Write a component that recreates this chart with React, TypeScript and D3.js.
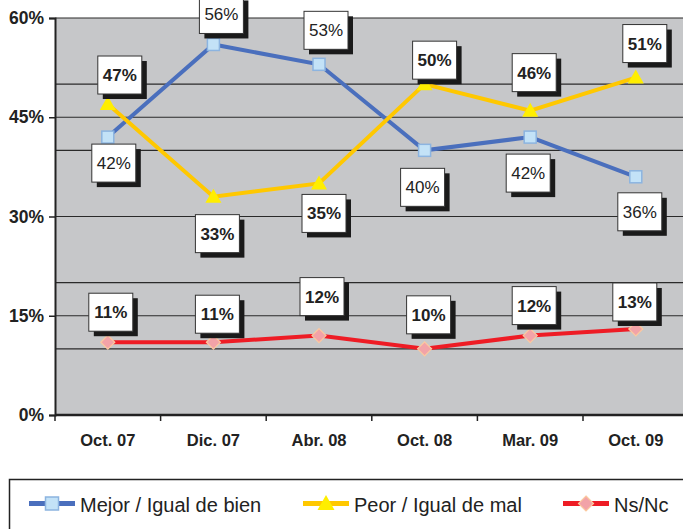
import React, { useEffect, useRef } from 'react';
import * as d3 from 'd3';

const categories = ['Oct. 07', 'Dic. 07', 'Abr. 08', 'Oct. 08', 'Mar. 09', 'Oct. 09'];
const mejor = [42, 56, 53, 40, 42, 36];
const peor = [47, 33, 35, 50, 46, 51];
const nsnc = [11, 11, 12, 10, 12, 13];
const yTicks = [0, 15, 30, 45, 60];
const gridValues = [10, 15, 20, 30, 40, 45, 50, 60];
const seriesNames = ['Mejor / Igual de bien', 'Peor / Igual de mal', 'Ns/Nc'];

// label box offsets from each point (dx, dy)
const mejorOffsets = [[6, 26], [8, -30], [7, -34], [-2, 37], [-2, 36], [4, 35]];
const peorOffsets = [[12, -29], [4, 37], [5, 30], [10, -24], [4, -38], [9, -34]];
const nsncOffsets = [[3, -30], [4, -28], [3, -39], [4, -34], [4, -30], [-1, -27]];

const App = () => {
  const svgRef = useRef(null);
  const width = 683;
  const height = 529;

  useEffect(() => {
    d3.select(svgRef.current).selectAll('*').remove();

    const margin = { top: 18, left: 55, bottom: 114 };
    const plotW = 633.6;
    const plotH = height - margin.top - margin.bottom;

    const svg = d3.select(svgRef.current).attr('width', width).attr('height', height);
    const font = 'Liberation Sans, Arial, sans-serif';

    const x = d3.scaleBand().domain(categories).range([margin.left, margin.left + plotW]);
    const y = d3.scaleLinear().domain([0, 60]).range([margin.top + plotH, margin.top]);
    const cx = (c) => x(c) + x.bandwidth() / 2;

    svg.append('rect')
      .attr('x', margin.left).attr('y', margin.top)
      .attr('width', plotW).attr('height', plotH)
      .attr('fill', '#c6c7c9');

    svg.append('g').selectAll('line').data(gridValues).join('line')
      .attr('x1', margin.left).attr('x2', margin.left + plotW)
      .attr('y1', d => y(d)).attr('y2', d => y(d))
      .attr('stroke', '#2a2a2a').attr('stroke-width', 1.2);

    // y axis
    const yAxis = svg.append('g')
      .attr('transform', `translate(${margin.left},0)`)
      .call(d3.axisLeft(y).tickValues(yTicks).tickSize(6).tickFormat(d => `${d}%`));
    yAxis.select('.domain').attr('stroke', '#222').attr('stroke-width', 2);
    yAxis.selectAll('.tick line').attr('stroke', '#222').attr('stroke-width', 1.5);
    yAxis.selectAll('text')
      .attr('font-family', font).attr('font-size', 17.5).attr('font-weight', 'bold')
      .attr('fill', '#222').attr('x', -11);

    // x axis
    const boundaries = categories.map((c) => x(c));
    const xg = svg.append('g');
    xg.append('line')
      .attr('x1', margin.left).attr('x2', margin.left + plotW)
      .attr('y1', y(0)).attr('y2', y(0))
      .attr('stroke', '#222').attr('stroke-width', 2.5);
    xg.selectAll('line.tk').data(boundaries).join('line')
      .attr('class', 'tk')
      .attr('x1', d => d).attr('x2', d => d)
      .attr('y1', y(0)).attr('y2', y(0) + 6)
      .attr('stroke', '#222').attr('stroke-width', 1.5);
    xg.selectAll('text').data(categories).join('text')
      .attr('x', d => cx(d)).attr('y', y(0) + 31)
      .attr('text-anchor', 'middle')
      .attr('font-family', font).attr('font-size', 16.5).attr('font-weight', 'bold')
      .attr('fill', '#222')
      .text(d => d);

    const series = [
      { values: mejor, color: '#4a6fbd', offsets: mejorOffsets, marker: 'square', bold: false },
      { values: peor, color: '#ffc800', offsets: peorOffsets, marker: 'triangle', bold: true },
      { values: nsnc, color: '#ee1c25', offsets: nsncOffsets, marker: 'diamond', bold: true },
    ];

    const line = d3.line().x((d, i) => cx(categories[i])).y(d => y(d));

    series.forEach((s) => {
      svg.append('path')
        .datum(s.values)
        .attr('fill', 'none')
        .attr('stroke', s.color)
        .attr('stroke-width', 4)
        .attr('d', line);
    });

    const drawMarker = (g, kind, px, py, r = 7) => {
      if (kind === 'square') {
        g.append('rect')
          .attr('x', px - r + 1).attr('y', py - r + 1).attr('width', 2 * r - 2).attr('height', 2 * r - 2)
          .attr('fill', '#c3e2f7').attr('stroke', '#8cb4e0').attr('stroke-width', 1.5);
      } else if (kind === 'triangle') {
        g.append('path')
          .attr('d', `M${px},${py - r - 1}L${px + r + 1},${py + r - 1}L${px - r - 1},${py + r - 1}Z`)
          .attr('fill', '#ffee00');
      } else {
        g.append('path')
          .attr('d', `M${px},${py - r}L${px + r},${py}L${px},${py + r}L${px - r},${py}Z`)
          .attr('fill', '#f2a3a8').attr('stroke', '#fbc99f').attr('stroke-width', 1.2);
      }
    };

    series.forEach((s) => {
      const g = svg.append('g');
      s.values.forEach((v, i) => drawMarker(g, s.marker, cx(categories[i]), y(v)));
    });

    // labels
    series.forEach((s) => {
      const g = svg.append('g');
      s.values.forEach((v, i) => {
        const bx = cx(categories[i]) + s.offsets[i][0];
        const by = y(v) + s.offsets[i][1];
        const bw = 44;
        const bh = 38;
        g.append('rect')
          .attr('x', bx - bw / 2 + 5).attr('y', by - bh / 2 + 5)
          .attr('width', bw).attr('height', bh).attr('fill', '#1a1a1a');
        g.append('rect')
          .attr('x', bx - bw / 2).attr('y', by - bh / 2)
          .attr('width', bw).attr('height', bh)
          .attr('fill', '#fff').attr('stroke', '#333').attr('stroke-width', 1);
        g.append('text')
          .attr('x', bx).attr('y', by + 6)
          .attr('text-anchor', 'middle')
          .attr('font-family', font).attr('font-size', 17)
          .attr('font-weight', s.bold ? 'bold' : 'normal')
          .attr('fill', '#222')
          .text(`${v}%`);
      });
    });

    // legend
    const lg = svg.append('g');
    lg.append('rect')
      .attr('x', 9.5).attr('y', 479.5).attr('width', 700).attr('height', 80)
      .attr('fill', '#fff').attr('stroke', '#222').attr('stroke-width', 1.5);
    const legendX = [29, 303, 563];
    seriesNames.forEach((name, k) => {
      const s = series[k];
      const ly = 503.5;
      const x0 = legendX[k];
      lg.append('line')
        .attr('x1', x0).attr('x2', x0 + 46).attr('y1', ly).attr('y2', ly)
        .attr('stroke', s.color).attr('stroke-width', 5);
      drawMarker(lg, s.marker, x0 + 23, ly, 7.5);
      lg.append('text')
        .attr('x', x0 + 51).attr('y', ly + 8)
        .attr('font-family', font).attr('font-size', 20)
        .attr('fill', '#222')
        .text(name);
    });
  }, []);

  return (
    <div style={{ position: 'absolute', left: 0, top: 0 }}>
      <svg ref={svgRef} style={{ display: 'block' }}></svg>
    </div>
  );
};

export default App;
